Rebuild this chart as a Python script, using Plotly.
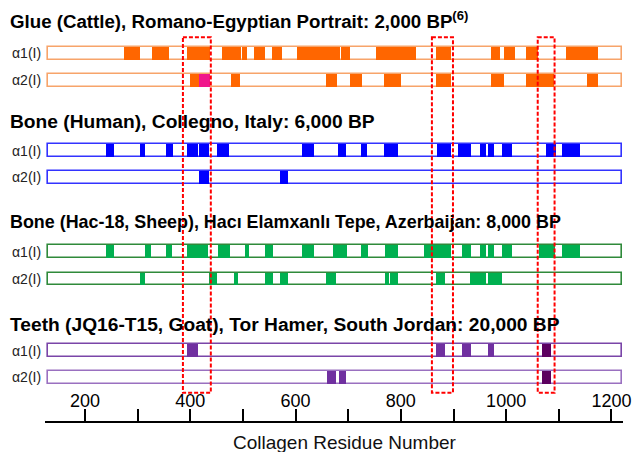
import plotly.graph_objects as go

# ---------------- data (collagen residue ranges) ----------------
TICK_VALS = [200, 400, 600, 800, 1000, 1200]
TICK_TEXT = ["200", "400", "600", "800", "1000", "1200"]
MINOR_TICK_VALS = [300, 500, 700, 900, 1100]

ROW_START, ROW_END = 129, 1220

GLUE_A1 = [[274, 305], [327, 359], [394, 437], [460, 479], [480, 497], [499, 507],
           [521, 542], [555, 574], [602, 684], [686, 703], [753, 829], [867, 896],
           [971, 988], [996, 1017], [1038, 1061], [1114, 1174]]
GLUE_A2 = [[399, 417], [477, 494], [658, 679], [703, 726], [768, 800], [867, 896],
           [971, 996], [1038, 1090], [1154, 1174]]
GLUE_A2_PINK = [[417, 437]]

HUMAN_A1 = [[240, 255], [305, 314], [354, 367], [394, 415], [417, 436], [451, 473],
            [613, 635], [681, 696], [724, 736], [768, 795], [869, 896], [909, 933],
            [950, 962], [965, 977], [992, 1011], [1076, 1094], [1106, 1140]]
HUMAN_A2 = [[417, 436], [570, 586]]

SHEEP_A1 = [[240, 255], [314, 325], [354, 365], [394, 434], [453, 475], [504, 512],
            [542, 557], [612, 635], [671, 698], [724, 737], [770, 795], [844, 896],
            [916, 933], [950, 962], [965, 977], [992, 1011], [1062, 1093], [1106, 1140]]
SHEEP_A2 = [[305, 314], [436, 451], [483, 491], [542, 557], [570, 586], [658, 677],
            [770, 777], [779, 795], [867, 884], [931, 962], [965, 992]]

GOAT_A1 = [[394, 415], [867, 884], [916, 933], [965, 977]]
GOAT_A1_DARK = [[1068, 1085]]
GOAT_A2 = [[660, 677], [682, 696]]
GOAT_A2_DARK = [[1068, 1085]]

BOXES = [[386, 439], [859, 899], [1060, 1092]]

TITLES = ["Glue (Cattle), Romano-Egyptian Portrait: 2,000 BP<sup>(6)</sup>",
          "Bone (Human), Collegno, Italy: 6,000 BP",
          "Bone (Hac-18, Sheep), Hacı Elamxanlı Tepe, Azerbaijan: 8,000 BP",
          "Teeth (JQ16-T15, Goat), Tor Hamer, South Jordan: 20,000 BP"]
ROW_LABELS = ["α1(I)", "α2(I)"]

# ---------------- layout constants ----------------
W, H = 637, 452
ML, MR = 45, 14
X_RANGE = [124, 1222]
BAR_H = 12.5
FONT = "Liberation Sans, Arial, sans-serif"

TITLE_Y = [20, 121, 222, 324]
TITLE_SIZES = [18.7, 19.2, 17.9, 19.2]
ROW_Y = [[53.3, 80.3], [150.7, 177.3], [251.7, 279.0], [350.7, 377.3]]
AXIS_Y = 421.7
BOX_TOP, BOX_BOTTOM = 37.3, 392.7

ORANGE, PINK = "#ff6600", "#f0168c"
BLUE = "#0000ff"
GREEN = "#00b050"
PURPLE, DPURPLE = "#7030a0", "#5c0060"

PW = W - ML - MR


def px_x(px):
    return (px - ML) / PW


def px_y(py):
    return 1 - py / H


fig = go.Figure()


def outline(y, color, width):
    fig.add_bar(orientation="h", base=[ROW_START], x=[ROW_END - ROW_START], y=[y],
                width=BAR_H, marker=dict(color="white", line=dict(color=color, width=width)),
                hoverinfo="skip", showlegend=False)


def segs(y, pairs, color):
    fig.add_bar(orientation="h", base=[a for a, b in pairs], x=[b - a for a, b in pairs],
                y=[y] * len(pairs), width=BAR_H,
                marker=dict(color=color, line=dict(width=0)),
                hoverinfo="skip", showlegend=False)


rows = [
    [(GLUE_A1, ORANGE)], [(GLUE_A2, ORANGE), (GLUE_A2_PINK, PINK)],
    [(HUMAN_A1, BLUE)], [(HUMAN_A2, BLUE)],
    [(SHEEP_A1, GREEN)], [(SHEEP_A2, GREEN)],
    [(GOAT_A1, PURPLE), (GOAT_A1_DARK, DPURPLE)], [(GOAT_A2, PURPLE), (GOAT_A2_DARK, DPURPLE)],
]
outline_cols = ["#f7a46a", "#f7a46a", "#3333ff", "#3333ff", "#2f8a3a", "#2f8a3a", "#7a45a8", "#9a70c0"]

ys = [y for pair in ROW_Y for y in pair]
for y, oc in zip(ys, outline_cols):
    outline(y, oc, 1.6)
for y, parts in zip(ys, rows):
    for pairs, col in parts:
        segs(y, pairs, col)

shapes = []
for a, b in BOXES:
    shapes.append(dict(type="rect", xref="x", yref="y", x0=a, x1=b, y0=BOX_TOP, y1=BOX_BOTTOM,
                       line=dict(color="#ff0000", width=2, dash="4px,2px"),
                       fillcolor="rgba(0,0,0,0)", layer="above"))

annotations = []
for t, ty, ts in zip(TITLES, TITLE_Y, TITLE_SIZES):
    annotations.append(dict(text="<b>" + t + "</b>", xref="paper", yref="paper",
                            x=px_x(8), y=px_y(ty), xanchor="left", yanchor="middle",
                            showarrow=False, font=dict(family=FONT, size=ts, color="black")))
for pair in ROW_Y:
    for lab, ry in zip(ROW_LABELS, pair):
        annotations.append(dict(text=lab, xref="paper", yref="paper",
                                x=px_x(10), y=px_y(ry), xanchor="left", yanchor="middle",
                                showarrow=False, font=dict(family=FONT, size=14, color="#222222")))
annotations.append(dict(text="Collagen Residue Number", xref="paper", yref="paper",
                        x=px_x(344.5), y=px_y(442), xanchor="center", yanchor="middle",
                        showarrow=False, font=dict(family=FONT, size=19, color="#111111")))

fig.update_layout(
    width=W, height=H, margin=dict(l=ML, r=MR, t=0, b=0),
    paper_bgcolor="white", plot_bgcolor="white",
    barmode="overlay", bargap=0, showlegend=False,
    xaxis=dict(range=X_RANGE, anchor="free", position=1 - AXIS_Y / H, side="top",
               ticks="outside", ticklen=12, tickwidth=1.5, tickcolor="black",
               showline=True, linewidth=2, linecolor="black",
               tickvals=TICK_VALS, ticktext=TICK_TEXT, ticklabelstandoff=-5,
               minor=dict(tickvals=MINOR_TICK_VALS, ticks="outside", ticklen=12,
                          tickwidth=1.5, tickcolor="black", showgrid=False),
               tickfont=dict(family=FONT, size=18, color="black"),
               showgrid=False, zeroline=False, fixedrange=True),
    yaxis=dict(range=[H, 0], visible=False, domain=[0, 1], fixedrange=True),
    shapes=shapes, annotations=annotations,
)

fig.write_html("out.html", config=dict(displayModeBar=False),
               post_script="document.body.style.margin='0';document.body.style.overflow='hidden';")
